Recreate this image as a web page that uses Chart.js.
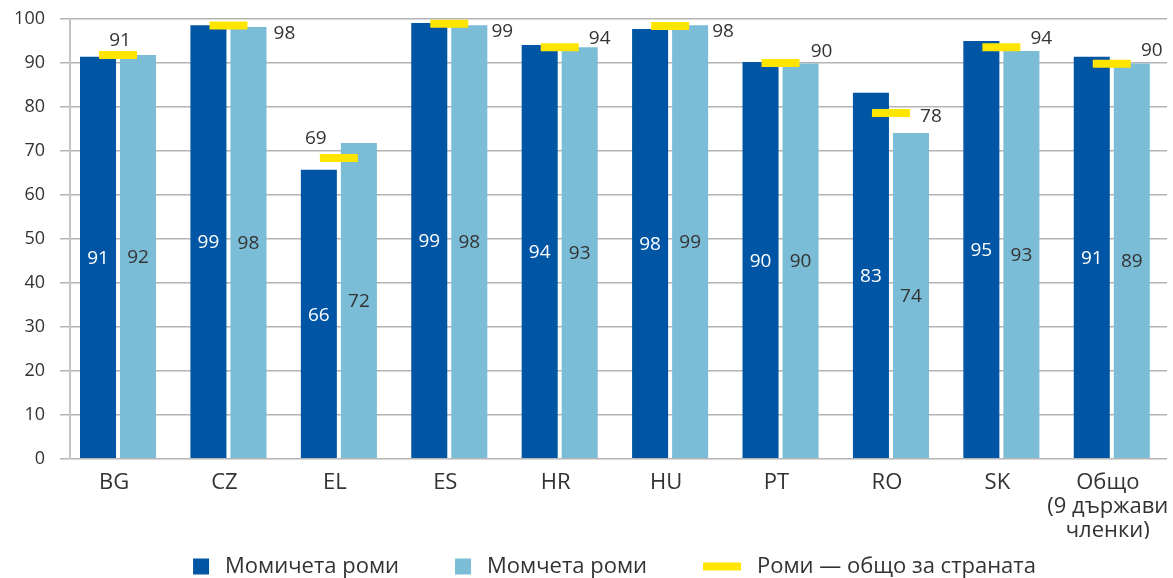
<!DOCTYPE html>
<html>
<head>
<meta charset="utf-8">
<script src="https://cdn.jsdelivr.net/npm/chart.js@4/dist/chart.umd.min.js"></script>
<style>
  html, body { margin: 0; padding: 0; background: #ffffff; }
  #c { display: block; }
</style>
</head>
<body>
<canvas id="c" width="1173" height="578"></canvas>
<script>
// ---- data ----
const categories = ['BG', 'CZ', 'EL', 'ES', 'HR', 'HU', 'PT', 'RO', 'SK', ['Общо', '(9 държави', 'членки)']];
const girls      = [91.4, 98.6, 65.7, 99.1, 94.1, 97.7, 90.2, 83.2, 95.0, 91.4];
const boys       = [91.8, 98.2, 71.8, 98.6, 93.6, 98.6, 89.9, 74.1, 92.7, 89.9];
const total      = [91.8, 98.5, 68.4, 98.9, 93.6, 98.4, 90.0, 78.6, 93.6, 89.8];
const girlsText  = ['91', '99', '66', '99', '94', '98', '90', '83', '95', '91'];
const boysText   = ['92', '98', '72', '98', '93', '99', '90', '74', '93', '89'];
const totalText  = ['91', '98', '69', '99', '94', '98', '90', '78', '94', '90'];
const yTicks     = [0, 10, 20, 30, 40, 50, 60, 70, 80, 90, 100];
const seriesNames = ['Момичета роми', 'Момчета роми', 'Роми — общо за страната'];

// ---- styling ----
const DARK = '#0055a4', LIGHT = '#7bbcd7', YELLOW = '#ffe500', TEXT = '#333333';
const FONT = "'Open Sans', 'Noto Sans', sans-serif";
// label placement for the national total marker labels (dx, dy from marker centre)
const totalLabelOffsets = [[2,-16],[56,7],[-23,-21],[53,6],[40,-10],[53,4],[41,-13],[40,2],[40,-10],[40,-15]];

Chart.defaults.font.family = FONT;
Chart.defaults.color = TEXT;

const toXY = arr => arr.map((v, i) => ({ x: i, y: v }));

const valueLabels = {
  id: 'valueLabels',
  afterDatasetsDraw(chart) {
    const ctx = chart.ctx;
    ctx.save();
    ctx.textAlign = 'center';
    ctx.textBaseline = 'alphabetic';
    ctx.font = '19px ' + FONT;
    const fs = 19, capHalf = fs * 0.357;
    chart.getDatasetMeta(0).data.forEach((bar, i) => {
      const p = bar.getProps(['x', 'y', 'base'], true);
      ctx.fillStyle = '#ffffff';
      ctx.fillText(girlsText[i], p.x, (p.y + p.base) / 2 + capHalf);
    });
    chart.getDatasetMeta(1).data.forEach((bar, i) => {
      const p = bar.getProps(['x', 'y', 'base'], true);
      ctx.fillStyle = TEXT;
      ctx.fillText(boysText[i], p.x, (p.y + p.base) / 2 + capHalf);
    });
    chart.getDatasetMeta(2).data.forEach((pt, i) => {
      const o = totalLabelOffsets[i];
      ctx.fillStyle = TEXT;
      ctx.fillText(totalText[i], pt.x + o[0], pt.y + o[1] + capHalf);
    });
    ctx.restore();
  }
};

const customLegend = {
  id: 'customLegend',
  afterDraw(chart) {
    const ctx = chart.ctx;
    const area = chart.chartArea;
    ctx.save();
    ctx.font = '22px ' + FONT;
    ctx.textBaseline = 'alphabetic';
    ctx.textAlign = 'left';
    const items = [
      { kind: 'box', color: DARK, text: seriesNames[0], w: 16 },
      { kind: 'box', color: LIGHT, text: seriesNames[1], w: 16 },
      { kind: 'line', color: YELLOW, text: seriesNames[2], w: 38 }
    ];
    const symGap = 16, itemGap = 56;
    let totalW = 0;
    items.forEach((it, k) => {
      it.tw = ctx.measureText(it.text).width;
      totalW += it.w + symGap + it.tw + (k < items.length - 1 ? itemGap : 0);
    });
    let x = (area.left + area.right) / 2 - 4 - totalW / 2;
    const cy = chart.height - 11.5;
    items.forEach(it => {
      ctx.fillStyle = it.color;
      if (it.kind === 'box') ctx.fillRect(x, cy - 8, 16, 16);
      else ctx.fillRect(x, cy - 4, 38, 8);
      x += it.w + symGap;
      ctx.fillStyle = TEXT;
      ctx.fillText(it.text, x, cy + 6);
      x += it.tw + itemGap;
    });
    ctx.restore();
  }
};

new Chart(document.getElementById('c'), {
  type: 'bar',
  data: {
    datasets: [
      { label: seriesNames[0], data: toXY(girls), backgroundColor: DARK, order: 1,
        barPercentage: 0.9, categoryPercentage: 0.725 },
      { label: seriesNames[1], data: toXY(boys), backgroundColor: LIGHT, order: 1,
        barPercentage: 0.9, categoryPercentage: 0.725 },
      { type: 'line', label: seriesNames[2], data: toXY(total), order: 0,
        showLine: false, pointStyle: 'line', pointRadius: 19, pointHoverRadius: 19,
        pointBorderWidth: 8, pointBorderColor: YELLOW, borderColor: YELLOW,
        backgroundColor: YELLOW, clip: false }
    ]
  },
  options: {
    responsive: false,
    animation: false,
    events: [],
    layout: { autoPadding: false, padding: { top: 19, right: 6, bottom: 39.3, left: 0 } },
    plugins: { legend: { display: false }, tooltip: { enabled: false } },
    scales: {
      x: {
        type: 'linear',
        min: -0.435,
        max: 9.5,
        offset: false,
        grid: { display: false, drawTicks: false, offset: false },
        border: { display: false },
        afterBuildTicks: axis => { axis.ticks = categories.map((_, i) => ({ value: i })); },
        afterFit: scale => { scale.height = 80; scale.paddingLeft = 0; scale.paddingRight = 0; },
        ticks: {
          autoSkip: false,
          maxRotation: 0,
          padding: 12,
          labelOffset: -4,
          color: TEXT,
          font: { size: 22, lineHeight: 1.1 },
          callback: v => categories[v]
        }
      },
      y: {
        min: 0,
        max: 100,
        afterBuildTicks: axis => { axis.ticks = yTicks.map(v => ({ value: v })); },
        afterFit: scale => { scale.width = 70; scale.paddingTop = 0; scale.paddingBottom = 0; },
        grid: { color: '#b4b4b4', lineWidth: 1.5, tickLength: 10, drawTicks: true },
        border: { display: true, color: '#c4c4c4', width: 2 },
        ticks: { padding: 15, color: TEXT, font: { size: 18 } }
      }
    }
  },
  plugins: [valueLabels, customLegend]
});
</script>
</body>
</html>
